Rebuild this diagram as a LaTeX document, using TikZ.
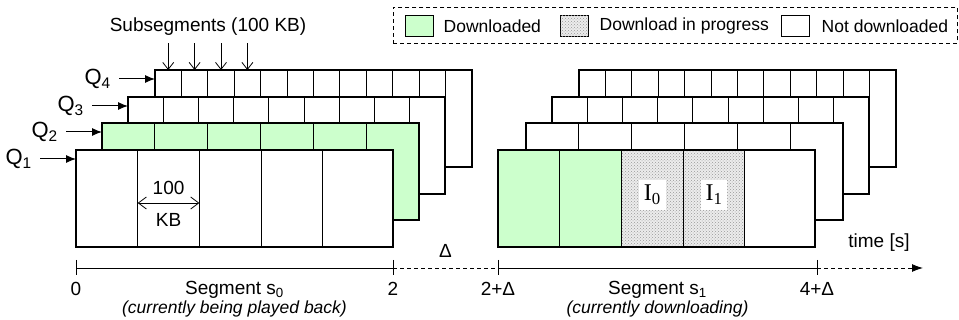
\documentclass[tikz,border=0pt]{standalone}
\usepackage{fontspec}
\setmainfont{Liberation Sans}
\newfontfamily\serifI{Liberation Serif}
\usetikzlibrary{positioning,arrows.meta,patterns}
\definecolor{DlGreen}{HTML}{CCFFCC}

\begin{document}
\begin{tikzpicture}[x=1pt,y=-1pt,line join=miter,
  strip/.style={draw,line width=1.5pt,fill=white,anchor=north west,minimum width=317pt,minimum height=97pt,inner sep=0pt,outer sep=0pt},
  cellrule/.style={line width=0.9pt},
  lbl/.style={font=\fontsize{19}{22}\selectfont,inner sep=1pt},
  legtext/.style={font=\fontsize{17.5}{20}\selectfont,inner sep=1pt},
  ital/.style={font=\fontsize{17.5}{20}\selectfont\itshape,inner sep=1pt},
  qlbl/.style={font=\fontsize{22}{25}\selectfont,anchor=east,inner sep=0pt},
  ilbl/.style={font=\serifI\fontsize{24}{28}\selectfont,fill=white,inner xsep=5pt,inner ysep=5pt},
  qarrow/.style={line width=1pt,-{Latex[length=10pt,width=8pt]}},
  barb/.style={line width=0.8pt,-{Straight Barb[length=7pt,width=11pt]}},
  dimarrow/.style={line width=0.8pt,{Straight Barb[length=8pt,width=12pt]}-{Straight Barb[length=8pt,width=12pt]}},
  axis/.style={line width=0.9pt},
  dashline/.style={dash pattern=on 4pt off 3pt},
  swatch/.style={draw,line width=1pt,minimum width=28pt,minimum height=21pt,inner sep=0pt},
  inprog/.style={fill=gray!15,postaction={pattern=crosshatch dots,pattern color=gray!80}}]
  \useasboundingbox (0,0) rectangle (959,320);
  % strips, back to front
  \foreach \n/\x/\y/\cells/\w/\c in {L4/155/70/12/26.4/white,L3/128/97/9/35.2/white,L2/102/123/6/52.8/DlGreen,L1/76/150/5/61.7/white,
      R4/579/70/12/26.4/white,R3/552/97/9/35.2/white,R2/526/123/6/52.8/white,R1/498/150/5/61.7/white}{
    \node[strip,fill=\c] (\n) at (\x,\y) {};
    \pgfmathtruncatemacro\lastcell{\cells-1}
    \foreach \j in {1,...,\lastcell}
      \draw[cellrule] ([xshift={\j*\w}]\n.north west) -- ([xshift={\j*\w}]\n.south west);
  }
  % segment being downloaded
  \fill[DlGreen] (R1.north west) rectangle ([xshift={2*61.7}]R1.south west);
  \path[inprog] ([xshift={2*61.7}]R1.north west) rectangle ([xshift={4*61.7}]R1.south west);
  \foreach \j in {1,...,4}
    \draw[cellrule] ([xshift={\j*61.7}]R1.north west) -- ([xshift={\j*61.7}]R1.south west);
  \draw[line width=1.5pt] (R1.north west) rectangle (R1.south east);
  \node[ilbl] (i0) at ([xshift={2.5*61.7},yshift=-45pt]R1.north west) {I\textsubscript{0}};
  \node[ilbl] (i1) at ([xshift={3.5*61.7},yshift=-45pt]R1.north west) {I\textsubscript{1}};
  % quality levels
  \foreach \k in {1,...,4}{
    \node[qlbl] (q\k) at ([xshift=-44pt,yshift=-9pt]L\k.north west) {Q\textsubscript{\k}};
    \draw[qarrow] ([xshift=8pt]q\k.east) -- (q\k.east -| L\k.west);
  }
  % subsegments
  \node[lbl] (subseg) at (208,27) {Subsegments (100 KB)};
  \foreach \j in {1,...,4}{
    \coordinate (s\j) at ([xshift={(\j-0.5)*26.4}]L4.north west);
    \draw[barb,shorten <=6pt] (s\j |- subseg.south) -- (s\j);
  }
  \coordinate (kbl) at ([xshift={61.7},yshift=-53pt]L1.north west);
  \coordinate (kbr) at ([xshift={2*61.7},yshift=-53pt]L1.north west);
  \coordinate (kbmid) at ([xshift={1.5*61.7},yshift=-53pt]L1.north west);
  \draw[dimarrow] (kbl) -- (kbr);
  \node[lbl,above=7pt of kbmid] (n100) {100};
  \node[lbl,below=9pt of kbmid] (nkb) {KB};
  % legend
  \node[draw,dashline,line width=0.8pt,anchor=north west,minimum width=564pt,minimum height=36pt,inner sep=0pt] (legend) at (393,7) {};
  \node[swatch,fill=DlGreen] (sw1) at (419,26) {};
  \node[legtext,right=9pt of sw1] (lt1) {Downloaded};
  \node[swatch,inprog] (sw2) at (574,26) {};
  \node[legtext,right=10pt of sw2] (lt2) {Download in progress};
  \node[swatch] (sw3) at (795,26) {};
  \node[legtext,right=11pt of sw3] (lt3) {Not downloaded};
  % time axis
  \coordinate (tick0) at (76,268);\coordinate (tick2) at (393,268);
  \coordinate (tick2d) at (498,268);\coordinate (tick4d) at (817,268);
  \coordinate (tend) at (923,268);
  \draw[axis] (tick0) -- (tick2);
  \draw[axis,dashline] (tick2) -- (tick2d);
  \draw[axis] (tick2d) -- (tick4d);
  \draw[axis,dashline,-{Latex[length=11pt,width=8pt]}] (tick4d) -- (tend);
  \foreach \t in {tick0,tick2,tick2d,tick4d}
    \draw[axis] ([yshift=8pt]\t) -- ([yshift=-7pt]\t);
  \node[lbl,below=13pt of tick0] (lab0) {0};
  \node[lbl,below=13pt of tick2] (lab2) {2};
  \node[lbl,below=13pt of tick2d] (lab2d) {2+Δ};
  \node[lbl,below=13pt of tick4d] (lab4d) {4+Δ};
  \path (tick2) -- (tick2d) node[midway,above=9pt,lbl] (delta) {Δ};
  \path (tick0) -- (tick2) node[midway,below=12pt,lbl] (seg0) {Segment s\textsubscript{0}};
  \path (tick0) -- (tick2) node[midway,below=32pt,ital] (play) {(currently being played back)};
  \path (tick2d) -- (tick4d) node[midway,below=12pt,lbl] (seg1) {Segment s\textsubscript{1}};
  \path (tick2d) -- (tick4d) node[midway,below=32pt,ital] (dl) {(currently downloading)};
  \node[lbl] (timelbl) at (879,243) {time [s]};
\end{tikzpicture}
\end{document}
